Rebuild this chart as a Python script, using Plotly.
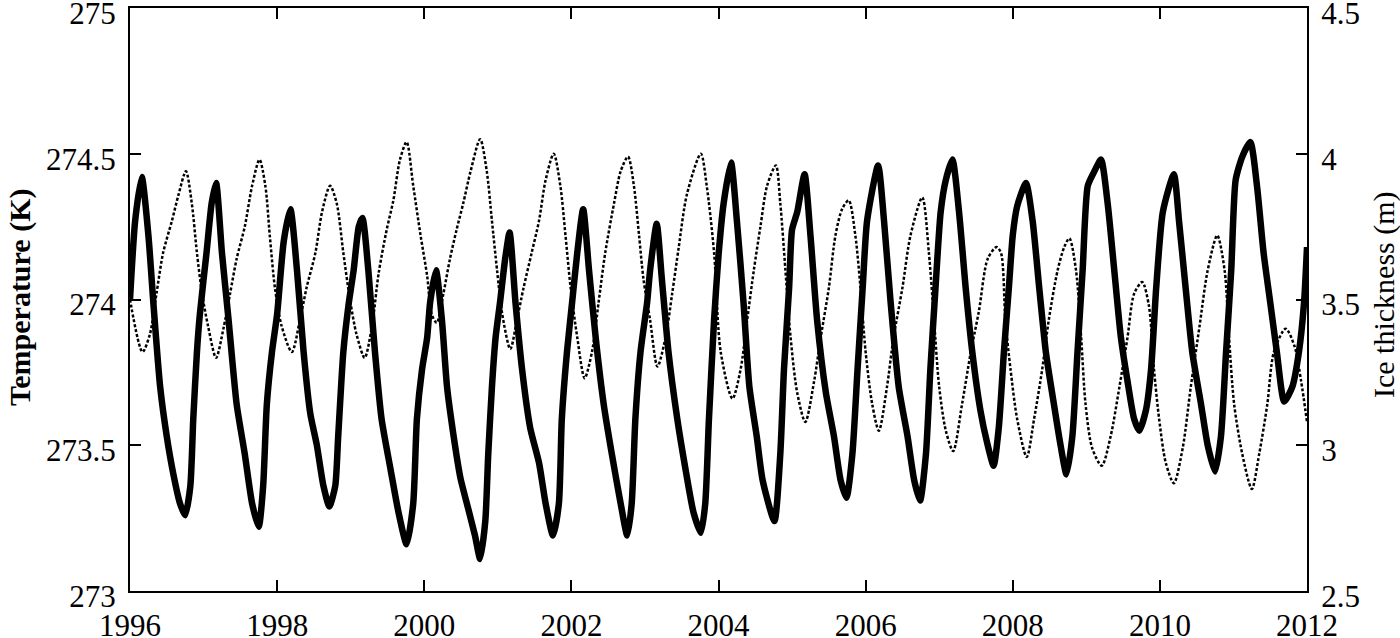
import plotly.graph_objects as go

# ---- Temperature (K), thick solid line ----
temp_year = [
    1996.00, 1996.07, 1996.16, 1996.25, 1996.32, 1996.41, 1996.50, 1996.59, 1996.68, 1996.75,
    1996.82, 1996.86, 1996.91, 1996.95, 1997.04, 1997.11, 1997.17,
    1997.25, 1997.34, 1997.45, 1997.56, 1997.66, 1997.75,
    1997.81, 1997.86, 1997.93, 1998.00, 1998.09, 1998.18,
    1998.27, 1998.36, 1998.45, 1998.54, 1998.63, 1998.71,
    1998.79, 1998.83, 1998.90, 1998.97, 1999.04, 1999.11, 1999.16,
    1999.24, 1999.33, 1999.42, 1999.54, 1999.65, 1999.76,
    1999.85, 1999.90, 1999.97, 2000.04, 2000.08, 2000.16,
    2000.24, 2000.31, 2000.40, 2000.49, 2000.60, 2000.69, 2000.76,
    2000.83, 2000.87, 2000.92, 2000.97, 2001.03, 2001.10, 2001.16,
    2001.24, 2001.33, 2001.44, 2001.56, 2001.65, 2001.75,
    2001.83, 2001.87, 2001.94, 2002.01, 2002.08, 2002.16,
    2002.24, 2002.33, 2002.44, 2002.55, 2002.67, 2002.76,
    2002.82, 2002.87, 2002.94, 2003.03, 2003.07, 2003.16,
    2003.23, 2003.32, 2003.44, 2003.55, 2003.66, 2003.76,
    2003.82, 2003.87, 2003.94, 2004.00, 2004.07, 2004.17,
    2004.25, 2004.34, 2004.42, 2004.52, 2004.60, 2004.76,
    2004.84, 2004.89, 2004.96, 2005.00, 2005.07, 2005.17,
    2005.25, 2005.34, 2005.46, 2005.57, 2005.66, 2005.74,
    2005.82, 2005.89, 2005.96, 2006.02, 2006.17,
    2006.25, 2006.34, 2006.45, 2006.57, 2006.66, 2006.74,
    2006.82, 2006.88, 2006.95, 2007.02, 2007.09, 2007.18,
    2007.27, 2007.36, 2007.45, 2007.56, 2007.65, 2007.74,
    2007.81, 2007.88, 2007.95, 2008.00, 2008.06, 2008.18,
    2008.27, 2008.36, 2008.45, 2008.56, 2008.65, 2008.73,
    2008.81, 2008.88, 2008.95, 2009.02, 2009.11, 2009.20,
    2009.29, 2009.38, 2009.47, 2009.56, 2009.65, 2009.72,
    2009.81, 2009.88, 2009.95, 2010.04, 2010.19,
    2010.26, 2010.35, 2010.44, 2010.56, 2010.65, 2010.75,
    2010.83, 2010.90, 2010.97, 2011.03, 2011.12, 2011.23,
    2011.32, 2011.41, 2011.50, 2011.59, 2011.69,
    2011.80, 2011.89, 2011.96, 2012.00,
]
temp_k = [
    274.00, 274.27, 274.42, 274.22, 273.98, 273.70, 273.53, 273.40, 273.30, 273.26,
    273.36, 273.59, 273.82, 273.95, 274.16, 274.33, 274.40,
    274.16, 273.93, 273.64, 273.47, 273.30, 273.22,
    273.36, 273.64, 273.82, 273.95, 274.20, 274.31,
    274.10, 273.82, 273.61, 273.50, 273.36, 273.29,
    273.36, 273.53, 273.82, 273.98, 274.10, 274.25, 274.28,
    274.10, 273.82, 273.59, 273.42, 273.27, 273.16,
    273.30, 273.59, 273.76, 273.87, 273.99, 274.10,
    273.93, 273.70, 273.53, 273.39, 273.28, 273.19, 273.11,
    273.24, 273.47, 273.70, 273.87, 273.99, 274.14, 274.23,
    273.99, 273.76, 273.56, 273.44, 273.30, 273.19,
    273.30, 273.59, 273.82, 273.99, 274.16, 274.31,
    274.10, 273.87, 273.64, 273.47, 273.30, 273.19,
    273.30, 273.59, 273.82, 273.99, 274.10, 274.26,
    274.07, 273.82, 273.59, 273.42, 273.27, 273.20,
    273.30, 273.59, 273.93, 274.15, 274.33, 274.47,
    274.27, 273.99, 273.70, 273.53, 273.38, 273.24,
    273.47, 273.76, 274.04, 274.24, 274.30, 274.43,
    274.22, 273.93, 273.68, 273.53, 273.38, 273.32,
    273.47, 273.76, 274.04, 274.27, 274.46,
    274.27, 273.99, 273.70, 273.53, 273.38, 273.31,
    273.47, 273.76, 274.04, 274.30, 274.41, 274.48,
    274.30, 274.04, 273.82, 273.62, 273.51, 273.43,
    273.56, 273.82, 274.05, 274.22, 274.32, 274.40,
    274.27, 274.04, 273.82, 273.64, 273.50, 273.40,
    273.53, 273.82, 274.10, 274.39, 274.44, 274.48,
    274.33, 274.10, 273.87, 273.72, 273.59, 273.55,
    273.62, 273.76, 274.04, 274.30, 274.43,
    274.27, 274.04, 273.82, 273.64, 273.50, 273.41,
    273.53, 273.82, 274.10, 274.41, 274.49, 274.54,
    274.39, 274.16, 273.99, 273.82, 273.65,
    273.70, 273.82, 273.99, 274.18,
]

# ---- Ice thickness (m), thin dotted line ----
ice_year = [
    1996.00, 1996.17,
    1996.27, 1996.36, 1996.45, 1996.57, 1996.66, 1996.76,
    1996.84, 1996.91, 1996.98, 1997.06, 1997.17,
    1997.27, 1997.36, 1997.45, 1997.56, 1997.66, 1997.76,
    1997.84, 1997.90, 1997.97, 1998.06, 1998.20,
    1998.31, 1998.40, 1998.52, 1998.61, 1998.72,
    1998.81, 1998.90, 1998.99, 1999.08, 1999.19,
    1999.29, 1999.38, 1999.49, 1999.58, 1999.67, 1999.76,
    1999.85, 1999.95, 2000.04, 2000.10, 2000.17,
    2000.26, 2000.35, 2000.44, 2000.53, 2000.63, 2000.76,
    2000.85, 2000.92, 2000.99, 2001.06, 2001.17,
    2001.26, 2001.35, 2001.46, 2001.56, 2001.65, 2001.76,
    2001.85, 2001.92, 2001.99, 2002.08, 2002.18,
    2002.28, 2002.37, 2002.46, 2002.58, 2002.67, 2002.77,
    2002.85, 2002.92, 2002.98, 2003.07, 2003.17,
    2003.28, 2003.37, 2003.46, 2003.57, 2003.76,
    2003.84, 2003.94, 2004.03, 2004.19,
    2004.30, 2004.39, 2004.48, 2004.57, 2004.66, 2004.78,
    2004.84, 2004.91, 2004.98, 2005.07, 2005.18,
    2005.30, 2005.39, 2005.50, 2005.59, 2005.68, 2005.77,
    2005.86, 2005.93, 2006.00, 2006.09, 2006.18,
    2006.29, 2006.38, 2006.50, 2006.61, 2006.77,
    2006.86, 2006.93, 2007.00, 2007.09, 2007.19,
    2007.31, 2007.43, 2007.54, 2007.66, 2007.78,
    2007.84, 2007.90, 2007.97, 2008.06, 2008.19,
    2008.29, 2008.40, 2008.49, 2008.61, 2008.70, 2008.77,
    2008.86, 2008.93, 2008.99, 2009.08, 2009.21,
    2009.33, 2009.45, 2009.56, 2009.65, 2009.76,
    2009.85, 2009.92, 2009.99, 2010.08, 2010.19,
    2010.31, 2010.42, 2010.54, 2010.65, 2010.78,
    2010.88, 2010.94, 2011.01, 2011.12, 2011.25,
    2011.35, 2011.46, 2011.55, 2011.71,
    2011.83, 2011.92, 2012.00,
]
ice_m = [
    3.50, 3.32,
    3.38, 3.52, 3.66, 3.77, 3.86, 3.94,
    3.83, 3.66, 3.52, 3.41, 3.30,
    3.40, 3.52, 3.64, 3.75, 3.89, 3.98,
    3.89, 3.72, 3.54, 3.41, 3.32,
    3.43, 3.54, 3.66, 3.80, 3.89,
    3.83, 3.66, 3.50, 3.38, 3.30,
    3.41, 3.59, 3.74, 3.84, 3.98, 4.04,
    3.89, 3.72, 3.58, 3.45, 3.42,
    3.52, 3.64, 3.74, 3.83, 3.94, 4.05,
    3.94, 3.77, 3.60, 3.45, 3.33,
    3.43, 3.54, 3.66, 3.77, 3.91, 4.00,
    3.89, 3.72, 3.54, 3.37, 3.23,
    3.32, 3.49, 3.66, 3.83, 3.94, 3.99,
    3.89, 3.72, 3.57, 3.43, 3.27,
    3.37, 3.52, 3.68, 3.86, 4.00,
    3.89, 3.66, 3.32, 3.16,
    3.26, 3.43, 3.60, 3.75, 3.89, 3.96,
    3.83, 3.60, 3.37, 3.18, 3.08,
    3.22, 3.37, 3.54, 3.72, 3.81, 3.84,
    3.72, 3.54, 3.32, 3.14, 3.05,
    3.20, 3.37, 3.54, 3.72, 3.85,
    3.66, 3.43, 3.20, 3.05, 2.98,
    3.14, 3.32, 3.46, 3.64, 3.68,
    3.66, 3.43, 3.26, 3.09, 2.96,
    3.09, 3.26, 3.43, 3.60, 3.68, 3.71,
    3.60, 3.37, 3.14, 2.99, 2.93,
    3.03, 3.20, 3.37, 3.52, 3.56,
    3.48, 3.26, 3.09, 2.94, 2.87,
    2.99, 3.20, 3.41, 3.60, 3.72,
    3.60, 3.37, 3.14, 2.97, 2.85,
    2.97, 3.14, 3.32, 3.40,
    3.34, 3.22, 3.08,
]

# ---- Axis ticks and titles ----
x_ticks = [1996, 1998, 2000, 2002, 2004, 2006, 2008, 2010, 2012]
x_labels = ["1996", "1998", "2000", "2002", "2004", "2006", "2008", "2010", "2012"]
yl_ticks = [273, 273.5, 274, 274.5, 275]
yl_labels = ["273", "273.5", "274", "274.5", "275"]
yr_ticks = [2.5, 3, 3.5, 4, 4.5]
yr_labels = ["2.5", "3", "3.5", "4", "4.5"]
left_title = "Temperature (K)"
right_title = "Ice thickness (m)"

FONT = "Liberation Serif, Times New Roman, serif"
W, H = 1400, 638
ML, MR, MT, MB = 130, 93, 8, 47
PW = W - ML - MR
PH = H - MT - MB

fig = go.Figure()
fig.add_trace(go.Scatter(
    x=ice_year, y=ice_m, mode="lines", yaxis="y2",
    line=dict(color="black", width=2.5, dash="3px,2px", shape="spline", smoothing=0.8),
    showlegend=False, hoverinfo="skip",
))
fig.add_trace(go.Scatter(
    x=temp_year, y=temp_k, mode="lines",
    line=dict(color="black", width=6.5, shape="spline", smoothing=0.6),
    showlegend=False, hoverinfo="skip",
))

axis_common = dict(
    ticks="inside", ticklen=11, tickwidth=2, tickcolor="black",
    showline=True, linecolor="black", linewidth=2,
    showgrid=False, zeroline=False, ticklabeloverflow="allow", automargin=False,
)

fig.update_layout(
    width=W, height=H,
    margin=dict(l=ML, r=MR, t=MT, b=MB, autoexpand=False),
    paper_bgcolor="white", plot_bgcolor="white",
    font=dict(family=FONT, size=31, color="black"),
    xaxis=dict(range=[1996, 2012], tickvals=x_ticks, ticktext=x_labels,
               mirror="ticks", ticklabelstandoff=6, **axis_common),
    yaxis=dict(range=[273, 275], tickvals=yl_ticks, ticktext=yl_labels,
               mirror=True, ticklabelstandoff=6, ticklabelshift=5, **axis_common),
    yaxis2=dict(range=[2.5, 4.5], tickvals=yr_ticks, ticktext=yr_labels,
                overlaying="y", side="right", ticklabelstandoff=6, ticklabelshift=5,
                **axis_common),
)

fig.add_annotation(
    text="<b>" + left_title + "</b>", textangle=-90, showarrow=False,
    xref="paper", yref="paper", x=(20 - ML) / PW, y=(H - MB - 298) / PH,
    xanchor="center", yanchor="middle", font=dict(size=30),
)
fig.add_annotation(
    text=right_title, textangle=-90, showarrow=False,
    xref="paper", yref="paper", x=(1384 - ML) / PW, y=(H - MB - 294) / PH,
    xanchor="center", yanchor="middle", font=dict(size=30),
)

fig.write_html(
    "out.html",
    config={"displayModeBar": False},
    post_script="document.body.style.margin='0';document.body.style.overflow='hidden';",
)
